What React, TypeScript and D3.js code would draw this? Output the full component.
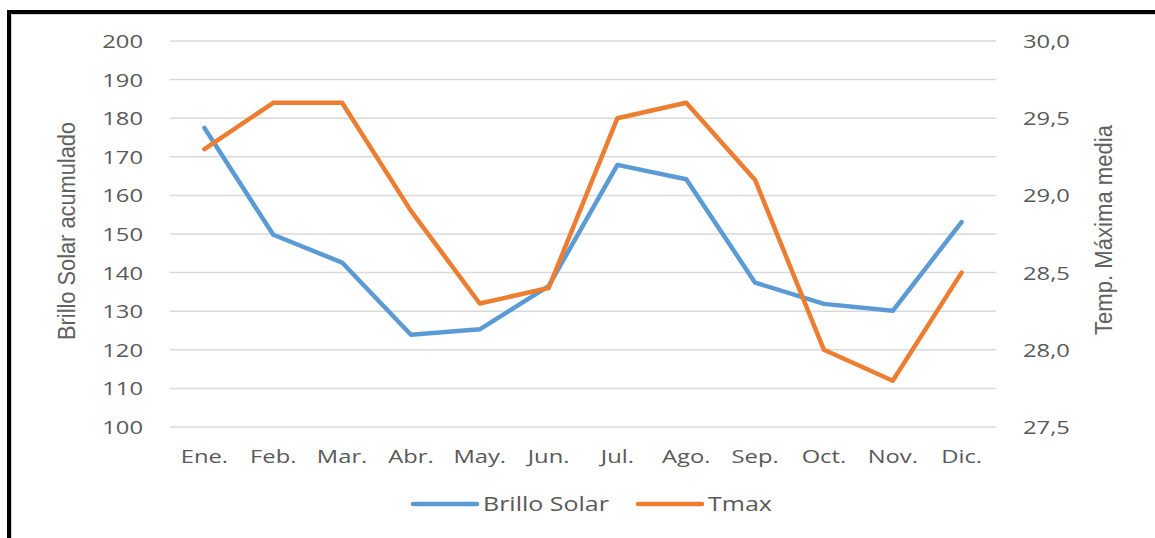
import * as d3 from "d3";

// datos
const meses = ["Ene.", "Feb.", "Mar.", "Abr.", "May.", "Jun.", "Jul.", "Ago.", "Sep.", "Oct.", "Nov.", "Dic."];
const brilloSolar = [177.5, 149.8, 142.6, 123.9, 125.3, 136.5, 167.9, 164.2, 137.4, 131.9, 130.1, 153.1];
const tmax = [29.3, 29.6, 29.6, 28.9, 28.3, 28.4, 29.5, 29.6, 29.1, 28.0, 27.8, 28.5];
const ticksIzq = [100, 110, 120, 130, 140, 150, 160, 170, 180, 190, 200];
const ticksDer = [27.5, 28.0, 28.5, 29.0, 29.5, 30.0];

const AZUL = "#5B9BD5";
const NARANJA = "#ED7D31";
const GRIS = "#595959";
const SX = 1.25; // el original está estirado en horizontal
const FONT = "'Open Sans', sans-serif";
const FONT_TIT = "'Liberation Sans', Arial, sans-serif";

const W = 1155;
const H = 538;
const margin = { top: 41, left: 170, right: 996, bottom: 427 };

export default function App() {
  const x = d3.scaleBand().domain(meses).range([margin.left, margin.right]);
  const cx = (m: string) => (x(m) ?? 0) + x.bandwidth() / 2;
  const yL = d3.scaleLinear().domain([100, 200]).range([margin.bottom, margin.top]);
  const yR = d3.scaleLinear().domain([27.5, 30]).range([margin.bottom, margin.top]);

  const lineaL = d3.line<number>().x((_, i) => cx(meses[i])).y((d) => yL(d));
  const lineaR = d3.line<number>().x((_, i) => cx(meses[i])).y((d) => yR(d));
  const fmt = (v: number) => d3.format(".1f")(v).replace(".", ",");

  const txt = (px: number, py: number, s: string, anchor: string, size = 19) => (
    <text
      transform={`translate(${px},${py}) scale(${SX},1)`}
      textAnchor={anchor}
      fontFamily={FONT}
      fontSize={size}
      fill={GRIS}
    >
      {s}
    </text>
  );

  // títulos verticales, más estrechos que el resto del texto
  const titulo = (px: number, py: number, s: string, largo: number) => (
    <text
      x={-largo / 2}
      transform={`translate(${px},${py}) rotate(-90)`}
      fontFamily={FONT_TIT}
      fontSize={23.5}
      fill="#606060"
      textLength={largo}
      lengthAdjust="spacingAndGlyphs"
    >
      {s}
    </text>
  );

  return (
    <svg width={W} height={H} style={{ position: "absolute", left: 0, top: 0 }}>
      <rect x={0} y={0} width={W} height={H} fill="#fff" />
      {/* marco */}
      <line x1={9} y1={12} x2={W} y2={12} stroke="#000" strokeWidth={4} />
      <line x1={9} y1={10} x2={9} y2={H} stroke="#000" strokeWidth={4} />
      <line x1={11.5} y1={14.5} x2={W} y2={14.5} stroke="#d0d0d0" strokeWidth={1} />
      <line x1={11.5} y1={14.5} x2={11.5} y2={H} stroke="#d0d0d0" strokeWidth={1} />

      {/* rejilla */}
      {ticksIzq.map((t) => (
        <line key={t} x1={margin.left} x2={margin.right} y1={yL(t)} y2={yL(t)} stroke="#D9D9D9" strokeWidth={1.5} />
      ))}

      {/* ejes */}
      {ticksIzq.map((t) => <g key={"l" + t}>{txt(143, yL(t) + 7, String(t), "end")}</g>)}
      {ticksDer.map((t) => <g key={"r" + t}>{txt(1023, yR(t) + 7, fmt(t), "start")}</g>)}
      {meses.map((m) => <g key={m}>{txt(cx(m), 463, m, "middle")}</g>)}

      {titulo(75, 231, "Brillo Solar acumulado", 218)}
      {titulo(1112, 230, "Temp. Máxima media", 210)}

      {/* series */}
      <path d={lineaL(brilloSolar) ?? ""} fill="none" stroke={AZUL} strokeWidth={4.5} strokeLinecap="round" strokeLinejoin="round" />
      <path d={lineaR(tmax) ?? ""} fill="none" stroke={NARANJA} strokeWidth={4.5} strokeLinecap="round" strokeLinejoin="round" />

      {/* leyenda */}
      <line x1={413} x2={477} y1={504} y2={504} stroke={AZUL} strokeWidth={4.5} strokeLinecap="round" />
      {txt(483, 511, "Brillo Solar", "start", 20)}
      <line x1={638} x2={702} y1={504} y2={504} stroke={NARANJA} strokeWidth={4.5} strokeLinecap="round" />
      {txt(708, 511, "Tmax", "start", 20)}
    </svg>
  );
}
